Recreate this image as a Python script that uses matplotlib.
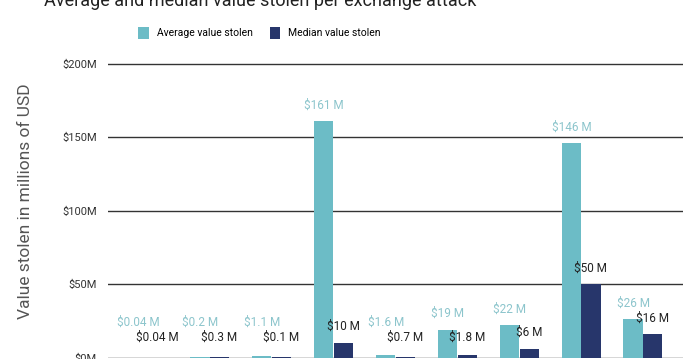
import numpy as np
import matplotlib.pyplot as plt

# data (millions of USD)
avg_values = [0.04, 0.2, 1.1, 161, 1.6, 19, 22, 146, 26]
median_values = [0.04, 0.3, 0.1, 10, 0.7, 1.8, 6, 50, 16]
avg_labels = ['$0.04 M', '$0.2 M', '$1.1 M', '$161 M', '$1.6 M', '$19 M', '$22 M', '$146 M', '$26 M']
median_labels = ['$0.04 M', '$0.3 M', '$0.1 M', '$10 M', '$0.7 M', '$1.8 M', '$6 M', '$50 M', '$16 M']
y_ticks = [0, 50, 100, 150, 200]
y_tick_labels = ['$0M', '$50M', '$100M', '$150M', '$200M']

avg_color = '#6cbcc6'
median_color = '#27366b'
avg_text_color = '#8cc5cc'

plt.rcParams['font.family'] = ['Roboto', 'DejaVu Sans']

fig = plt.figure(figsize=(7.0, 3.59), dpi=100)
ax = fig.add_axes([0.154, 0.004, 0.822, 0.8205])

x = np.arange(len(avg_values))
w = 0.31
ax.bar(x - w / 2 - 0.005, avg_values, w, color=avg_color, label='Average value stolen', zorder=3)
ax.bar(x + w / 2 + 0.005, median_values, w, color=median_color, label='Median value stolen', zorder=3)

# value labels
for i in range(len(x)):
    ax.text(x[i] - w / 2, max(avg_values[i] + 11, 24), avg_labels[i], ha='center', va='center',
            fontsize=8.5, color=avg_text_color, zorder=4)
    ax.text(x[i] + w / 2, max(median_values[i] + 11, 13.5), median_labels[i], ha='center', va='center',
            fontsize=8.5, color='#222222', zorder=4)

ax.set_xlim(-0.65, len(x) - 0.35)
ax.set_ylim(0, 200.5)
ax.set_yticks(y_ticks)
ax.set_yticklabels(y_tick_labels, fontsize=8, color='#333333')
ax.tick_params(axis='y', length=0, pad=8)
ax.set_xticks([])
ax.grid(axis='y', color='#333333', linewidth=1.0, zorder=0)
for s in ax.spines.values():
    s.set_visible(False)

ax.set_ylabel('Value stolen in millions of USD', fontsize=12.5, color='#555555')
ax.yaxis.set_label_coords(-0.13, 0.53)

fig.text(0.372, 0.983, 'Average and median value stolen per exchange attack', ha='center', va='baseline',
         fontsize=13, color='#222222')

fig.legend(loc='center', bbox_to_anchor=(0.371, 0.908), ncol=2, frameon=False, fontsize=7.5,
           handlelength=1.0, handleheight=1.4, columnspacing=1.6, handletextpad=0.8)

plt.savefig('out.png', dpi=100)
